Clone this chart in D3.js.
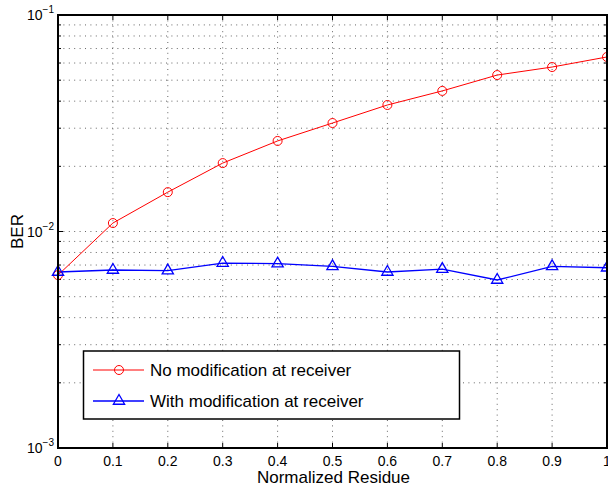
<!DOCTYPE html>
<html><head><meta charset="utf-8">
<script src="https://cdn.jsdelivr.net/npm/d3@7"></script>
<style>body{margin:0;background:#fff}svg{display:block}text{font-family:"Liberation Sans",Arial,Helvetica,sans-serif}</style>
</head><body>
<script>
const xValues = [0,0.1,0.2,0.3,0.4,0.5,0.6,0.7,0.8,0.9,1.0];
const noModification = [0.00629,0.01094,0.0152,0.0207,0.0262,0.0317,0.0384,0.0446,0.0528,0.0575,0.064];
const withModification = [0.0065,0.00664,0.0066,0.00715,0.0071,0.0069,0.0065,0.0067,0.00597,0.0069,0.0068];
const xTicks = [0,0.1,0.2,0.3,0.4,0.5,0.6,0.7,0.8,0.9,1];
const yDecades = [-3,-2,-1];
const seriesNames = ["No modification at receiver","With modification at receiver"];

const W=608,H=487, L=58, R=607, T=15, B=448;
const svg=d3.select("body").append("svg").attr("width",W).attr("height",H);
const x=d3.scaleLinear().domain([0,1]).range([L,R]);
const y=d3.scaleLog().domain([1e-3,1e-1]).range([B,T]);

// grid
const minor=[];
for(let d=-3; d<-1; d++) for(let m=1;m<10;m++) minor.push(m*Math.pow(10,d));
minor.push(0.1);
const g=svg.append("g");
g.selectAll(".hg").data(minor.filter(v=>v>1e-3&&v<1e-1)).join("line")
 .attr("x1",L).attr("x2",R).attr("y1",d=>y(d)).attr("y2",d=>y(d))
 .attr("stroke","#666").attr("stroke-width",1).attr("stroke-dasharray","1,4.4");
g.selectAll(".vg").data(xTicks.slice(1,-1)).join("line")
 .attr("x1",d=>x(d)).attr("x2",d=>x(d)).attr("y1",T).attr("y2",B)
 .attr("stroke","#666").attr("stroke-width",1).attr("stroke-dasharray","1,4.4");

// ticks inward
const tk=svg.append("g").attr("stroke","#000").attr("stroke-width",1);
xTicks.forEach(v=>{
  tk.append("line").attr("x1",x(v)).attr("x2",x(v)).attr("y1",B).attr("y2",B-5);
  tk.append("line").attr("x1",x(v)).attr("x2",x(v)).attr("y1",T).attr("y2",T+5);
});
minor.forEach(v=>{
  const len = (Math.abs(Math.log10(v)-Math.round(Math.log10(v)))<1e-9)?5:3;
  tk.append("line").attr("x1",L).attr("x2",L+len).attr("y1",y(v)).attr("y2",y(v));
  tk.append("line").attr("x1",R).attr("x2",R-len).attr("y1",y(v)).attr("y2",y(v));
});

// lines
const line=d3.line().x((d,i)=>x(xValues[i])).y(d=>y(d));
svg.append("path").datum(noModification).attr("d",line).attr("fill","none").attr("stroke","#ff0000").attr("stroke-width",1);
svg.append("path").datum(withModification).attr("d",line).attr("fill","none").attr("stroke","#0000ff").attr("stroke-width",1.3);
svg.selectAll(".c").data(noModification).join("circle")
 .attr("cx",(d,i)=>x(xValues[i])).attr("cy",d=>y(d)).attr("r",4.5)
 .attr("fill","none").attr("stroke","#ff0000").attr("stroke-width",1);
const tri=d3.symbol().type(d3.symbolTriangle).size(55);
svg.selectAll(".t").data(withModification).join("path")
 .attr("transform",(d,i)=>`translate(${x(xValues[i])},${y(d)})`).attr("d",tri)
 .attr("fill","none").attr("stroke","#0000ff").attr("stroke-width",1.3);

// frame
svg.append("rect").attr("x",L).attr("y",T).attr("width",R-L).attr("height",B-T)
 .attr("fill","none").attr("stroke","#000").attr("stroke-width",2);

// x tick labels
svg.selectAll(".xl").data(xTicks).join("text")
 .attr("x",d=>x(d)).attr("y",466).attr("text-anchor","middle").attr("font-size",14)
 .text(d=>d===0?"0":(d===1?"1":d.toFixed(1)));
// y tick labels
yDecades.forEach(d=>{
  const t=svg.append("text").attr("x",L-4).attr("y",y(Math.pow(10,d))+5).attr("text-anchor","end").attr("font-size",14);
  t.append("tspan").text("10");
  t.append("tspan").attr("dy",-7).attr("font-size",10).text("\u2212"+(-d));
});
// axis labels
svg.append("text").attr("x",(L+R)/2+1).attr("y",483).attr("text-anchor","middle").attr("font-size",17).text("Normalized Residue");
svg.append("text").attr("transform",`translate(23,${(T+B)/2}) rotate(-90)`).attr("text-anchor","middle").attr("font-size",17).text("BER");

// legend
const lg=svg.append("g");
lg.append("rect").attr("x",83.5).attr("y",351).attr("width",376).attr("height",68).attr("fill","#fff").attr("stroke","#000").attr("stroke-width",1.5);
const rows=[370,401];
lg.append("line").attr("x1",93).attr("x2",144).attr("y1",rows[0]).attr("y2",rows[0]).attr("stroke","#ff0000");
lg.append("circle").attr("cx",119).attr("cy",rows[0]).attr("r",4.5).attr("fill","none").attr("stroke","#ff0000");
lg.append("line").attr("x1",93).attr("x2",144).attr("y1",rows[1]).attr("y2",rows[1]).attr("stroke","#0000ff").attr("stroke-width",1.3);
lg.append("path").attr("transform",`translate(119,${rows[1]})`).attr("d",tri).attr("fill","none").attr("stroke","#0000ff").attr("stroke-width",1.3);
seriesNames.forEach((n,i)=>lg.append("text").attr("x",150).attr("y",rows[i]+6).attr("font-size",17).text(n));
</script>
</body></html>
